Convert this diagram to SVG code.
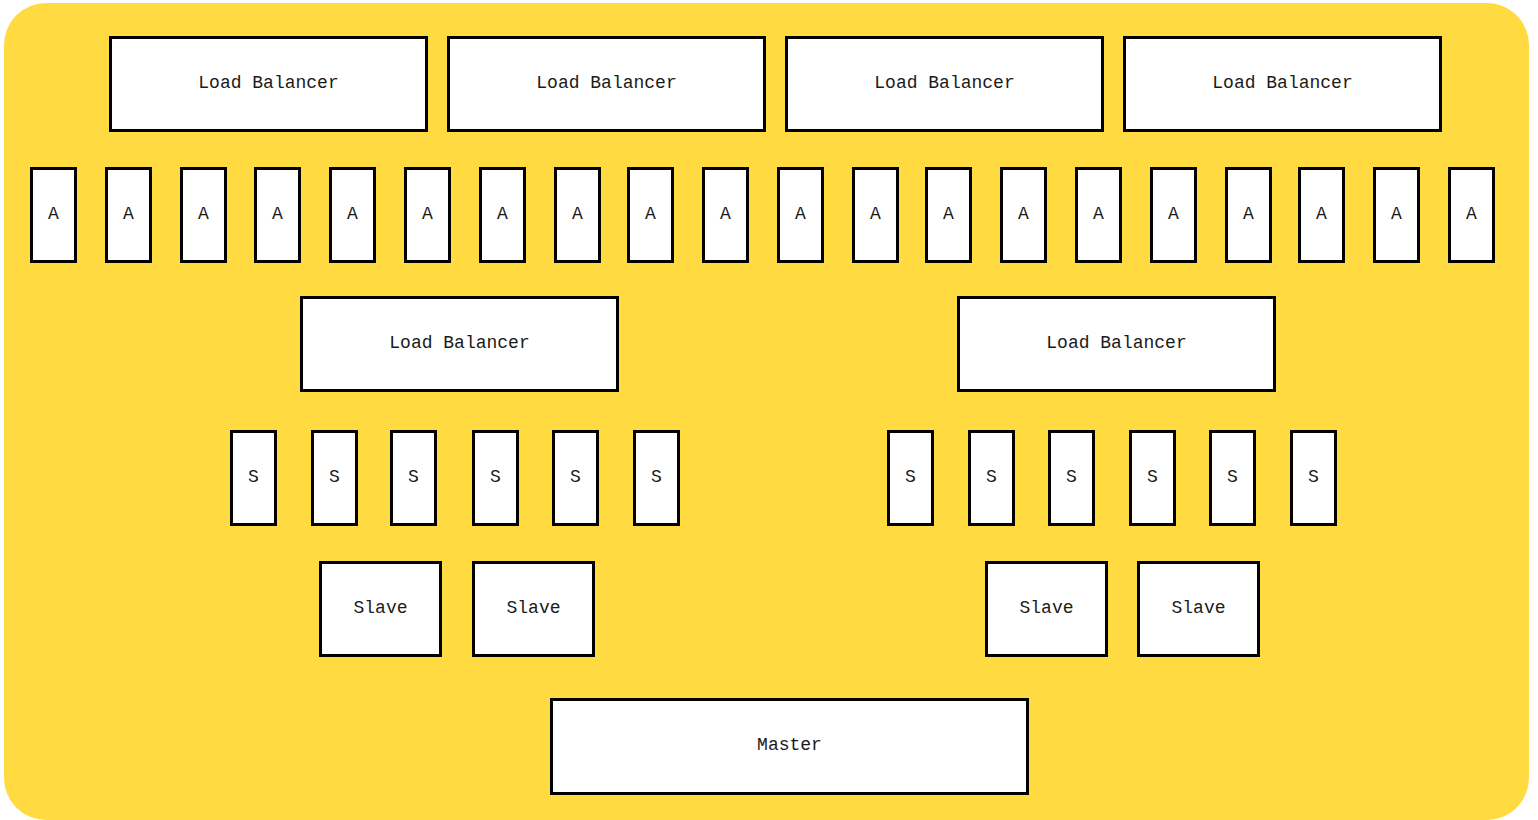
<svg xmlns="http://www.w3.org/2000/svg" width="1538" height="820" viewBox="0 0 1538 820">
<style>
.bg{fill:#FFDB41}
.box{fill:#fff;stroke:#000;stroke-width:3}
.t{font-family:"Liberation Mono","Courier New",monospace;font-size:18px;fill:#1a1a1a;text-anchor:middle;dominant-baseline:central}
</style>
<rect class="bg" x="4" y="3" width="1525" height="817" rx="42" ry="42"/>
<g id="connectors"></g>
<g id="lb1"><rect class="box" x="110.5" y="37.5" width="316" height="93"/><text class="t" x="268.5" y="83">Load Balancer</text></g>
<g id="lb2"><rect class="box" x="448.5" y="37.5" width="316" height="93"/><text class="t" x="606.5" y="83">Load Balancer</text></g>
<g id="lb3"><rect class="box" x="786.5" y="37.5" width="316" height="93"/><text class="t" x="944.5" y="83">Load Balancer</text></g>
<g id="lb4"><rect class="box" x="1124.5" y="37.5" width="316" height="93"/><text class="t" x="1282.5" y="83">Load Balancer</text></g>
<g id="a1"><rect class="box" x="31.5" y="168.5" width="44" height="93"/><text class="t" x="53.5" y="214">A</text></g>
<g id="a2"><rect class="box" x="106.5" y="168.5" width="44" height="93"/><text class="t" x="128.5" y="214">A</text></g>
<g id="a3"><rect class="box" x="181.5" y="168.5" width="44" height="93"/><text class="t" x="203.5" y="214">A</text></g>
<g id="a4"><rect class="box" x="255.5" y="168.5" width="44" height="93"/><text class="t" x="277.5" y="214">A</text></g>
<g id="a5"><rect class="box" x="330.5" y="168.5" width="44" height="93"/><text class="t" x="352.5" y="214">A</text></g>
<g id="a6"><rect class="box" x="405.5" y="168.5" width="44" height="93"/><text class="t" x="427.5" y="214">A</text></g>
<g id="a7"><rect class="box" x="480.5" y="168.5" width="44" height="93"/><text class="t" x="502.5" y="214">A</text></g>
<g id="a8"><rect class="box" x="555.5" y="168.5" width="44" height="93"/><text class="t" x="577.5" y="214">A</text></g>
<g id="a9"><rect class="box" x="628.5" y="168.5" width="44" height="93"/><text class="t" x="650.5" y="214">A</text></g>
<g id="a10"><rect class="box" x="703.5" y="168.5" width="44" height="93"/><text class="t" x="725.5" y="214">A</text></g>
<g id="a11"><rect class="box" x="778.5" y="168.5" width="44" height="93"/><text class="t" x="800.5" y="214">A</text></g>
<g id="a12"><rect class="box" x="853.5" y="168.5" width="44" height="93"/><text class="t" x="875.5" y="214">A</text></g>
<g id="a13"><rect class="box" x="926.5" y="168.5" width="44" height="93"/><text class="t" x="948.5" y="214">A</text></g>
<g id="a14"><rect class="box" x="1001.5" y="168.5" width="44" height="93"/><text class="t" x="1023.5" y="214">A</text></g>
<g id="a15"><rect class="box" x="1076.5" y="168.5" width="44" height="93"/><text class="t" x="1098.5" y="214">A</text></g>
<g id="a16"><rect class="box" x="1151.5" y="168.5" width="44" height="93"/><text class="t" x="1173.5" y="214">A</text></g>
<g id="a17"><rect class="box" x="1226.5" y="168.5" width="44" height="93"/><text class="t" x="1248.5" y="214">A</text></g>
<g id="a18"><rect class="box" x="1299.5" y="168.5" width="44" height="93"/><text class="t" x="1321.5" y="214">A</text></g>
<g id="a19"><rect class="box" x="1374.5" y="168.5" width="44" height="93"/><text class="t" x="1396.5" y="214">A</text></g>
<g id="a20"><rect class="box" x="1449.5" y="168.5" width="44" height="93"/><text class="t" x="1471.5" y="214">A</text></g>
<g id="lb5"><rect class="box" x="301.5" y="297.5" width="316" height="93"/><text class="t" x="459.5" y="343">Load Balancer</text></g>
<g id="lb6"><rect class="box" x="958.5" y="297.5" width="316" height="93"/><text class="t" x="1116.5" y="343">Load Balancer</text></g>
<g id="s1"><rect class="box" x="231.5" y="431.5" width="44" height="93"/><text class="t" x="253.5" y="477">S</text></g>
<g id="s2"><rect class="box" x="312.5" y="431.5" width="44" height="93"/><text class="t" x="334.5" y="477">S</text></g>
<g id="s3"><rect class="box" x="391.5" y="431.5" width="44" height="93"/><text class="t" x="413.5" y="477">S</text></g>
<g id="s4"><rect class="box" x="473.5" y="431.5" width="44" height="93"/><text class="t" x="495.5" y="477">S</text></g>
<g id="s5"><rect class="box" x="553.5" y="431.5" width="44" height="93"/><text class="t" x="575.5" y="477">S</text></g>
<g id="s6"><rect class="box" x="634.5" y="431.5" width="44" height="93"/><text class="t" x="656.5" y="477">S</text></g>
<g id="s7"><rect class="box" x="888.5" y="431.5" width="44" height="93"/><text class="t" x="910.5" y="477">S</text></g>
<g id="s8"><rect class="box" x="969.5" y="431.5" width="44" height="93"/><text class="t" x="991.5" y="477">S</text></g>
<g id="s9"><rect class="box" x="1049.5" y="431.5" width="44" height="93"/><text class="t" x="1071.5" y="477">S</text></g>
<g id="s10"><rect class="box" x="1130.5" y="431.5" width="44" height="93"/><text class="t" x="1152.5" y="477">S</text></g>
<g id="s11"><rect class="box" x="1210.5" y="431.5" width="44" height="93"/><text class="t" x="1232.5" y="477">S</text></g>
<g id="s12"><rect class="box" x="1291.5" y="431.5" width="44" height="93"/><text class="t" x="1313.5" y="477">S</text></g>
<g id="slave1"><rect class="box" x="320.5" y="562.5" width="120" height="93"/><text class="t" x="380.5" y="608">Slave</text></g>
<g id="slave2"><rect class="box" x="473.5" y="562.5" width="120" height="93"/><text class="t" x="533.5" y="608">Slave</text></g>
<g id="slave3"><rect class="box" x="986.5" y="562.5" width="120" height="93"/><text class="t" x="1046.5" y="608">Slave</text></g>
<g id="slave4"><rect class="box" x="1138.5" y="562.5" width="120" height="93"/><text class="t" x="1198.5" y="608">Slave</text></g>
<g id="master"><rect class="box" x="551.5" y="699.5" width="476" height="94"/><text class="t" x="789.5" y="745">Master</text></g>
</svg>
